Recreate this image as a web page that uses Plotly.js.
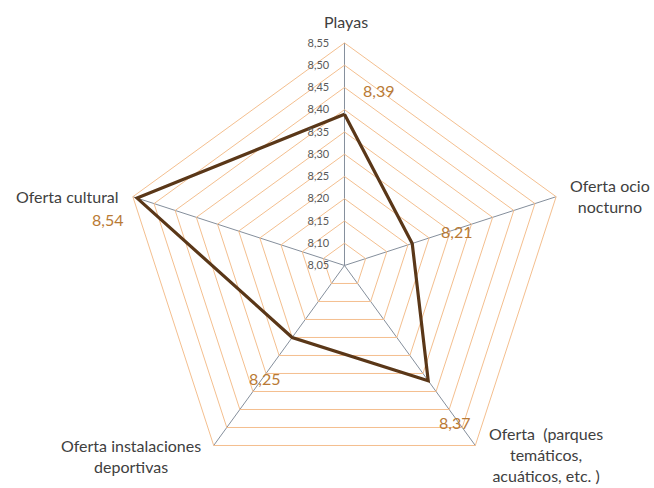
<!DOCTYPE html>
<html>
<head>
<meta charset="utf-8">
<script src="https://cdn.plot.ly/plotly-3.0.1.min.js"></script>
<style>html,body{margin:0;padding:0;background:#fff;}#chart{width:654px;height:488px;}</style>
</head>
<body>
<div id="chart"></div>
<script>
const categories = ["Playas", "Oferta ocio nocturno", "Oferta  (parques temáticos, acuáticos, etc. )", "Oferta instalaciones deportivas", "Oferta cultural"];
const categoryLabels = ["Playas", "Oferta ocio<br>nocturno", "Oferta  (parques<br>temáticos,<br>acuáticos, etc. )", "Oferta instalaciones<br>deportivas", "Oferta cultural"];
const values = [8.39, 8.21, 8.37, 8.25, 8.54];
const radialTicks = [8.05, 8.10, 8.15, 8.20, 8.25, 8.30, 8.35, 8.40, 8.45, 8.50, 8.55];

const fmt = v => v.toFixed(2).replace('.', ',');
const W = 654, H = 488;
const px = x => x / W, py = y => 1 - y / H;

// label placements (pixels)
const catPos = [
  {x: 346, y: 22},
  {x: 610, y: 196},
  {x: 546, y: 454},
  {x: 131, y: 456},
  {x: 67,  y: 196}
];
const valPos = [
  {x: 378, y: 90}, {x: 456, y: 231}, {x: 454, y: 422}, {x: 264, y: 378}, {x: 107, y: 220}
];

const annotations = [];
categories.forEach((c, i) => {
  annotations.push({
    xref: 'paper', yref: 'paper', x: px(catPos[i].x), y: py(catPos[i].y),
    xanchor: 'center', yanchor: 'middle', showarrow: false,
    text: categoryLabels[i], align: 'center',
    font: {family: 'Lato, "Open Sans", sans-serif', size: 16, color: '#404040'}
  });
  annotations.push({
    xref: 'paper', yref: 'paper', x: px(valPos[i].x), y: py(valPos[i].y),
    xanchor: 'center', yanchor: 'middle', showarrow: false,
    text: fmt(values[i]),
    font: {family: 'Lato, "Open Sans", sans-serif', size: 16, color: '#b97a35'}
  });
});

const trace = {
  type: 'scatterpolar',
  r: values.concat([values[0]]),
  theta: categories.concat([categories[0]]),
  mode: 'lines',
  line: {color: '#5a3718', width: 3.2},
  hoverinfo: 'skip',
  showlegend: false
};

const layout = {
  width: W, height: H,
  margin: {l: 0, r: 0, t: 0, b: 0},
  paper_bgcolor: '#fff',
  showlegend: false,
  polar: {
    domain: {x: [0.1865, 0.867], y: [0.0, 0.912]},
    bgcolor: 'rgba(0,0,0,0)',
    gridshape: 'linear',
    radialaxis: {
      range: [8.05, 8.55],
      tickvals: radialTicks,
      ticktext: radialTicks.map(fmt),
      angle: 90,
      tickangle: 90,
      side: 'counterclockwise',
      showline: false,
      ticks: 'outside',
      ticklen: 11,
      tickcolor: 'rgba(0,0,0,0)',
      gridcolor: '#f4bf8f',
      gridwidth: 1,
      tickfont: {family: 'Lato, "Open Sans", sans-serif', size: 11, color: '#595959'}
    },
    angularaxis: {
      direction: 'clockwise',
      rotation: 90,
      showticklabels: false,
      ticks: '',
      gridcolor: '#858f9c',
      gridwidth: 1,
      linecolor: '#f4bf8f',
      linewidth: 1,
      showline: true
    }
  },
  annotations: annotations
};

Plotly.newPlot('chart', [trace], layout, {displayModeBar: false, staticPlot: true});
</script>
</body>
</html>
